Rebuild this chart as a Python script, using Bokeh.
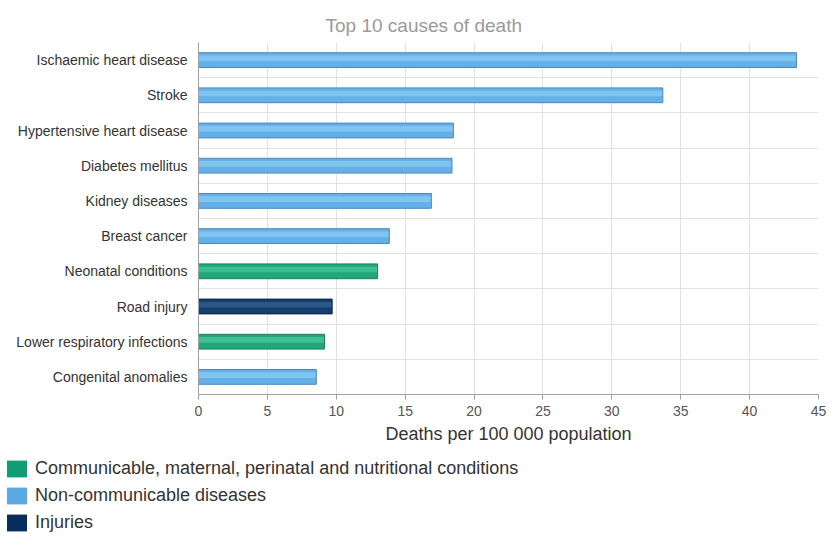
from bokeh.plotting import figure
from bokeh.layouts import column
from bokeh.models import Range1d, FactorRange, FixedTicker, Legend, LegendItem, ColumnDataSource
from bokeh.transform import dodge
from bokeh.embed import file_html
from bokeh.resources import INLINE

# ---- data ----
causes = ["Ischaemic heart disease", "Stroke", "Hypertensive heart disease",
          "Diabetes mellitus", "Kidney diseases", "Breast cancer",
          "Neonatal conditions", "Road injury", "Lower respiratory infections",
          "Congenital anomalies"]
deaths = [43.4, 33.7, 18.5, 18.4, 16.9, 13.85, 13.0, 9.7, 9.15, 8.55]
COMM = "Communicable, maternal, perinatal and nutritional conditions"
NCD = "Non-communicable diseases"
INJ = "Injuries"
groups = [NCD, NCD, NCD, NCD, NCD, NCD, COMM, INJ, COMM, NCD]
group_order = [COMM, NCD, INJ]
x_ticks = [0, 5, 10, 15, 20, 25, 30, 35, 40, 45]
title_text = "Top 10 causes of death"
x_label = "Deaths per 100 000 population"

# ---- styles ----
bar_fill = {COMM: "#22a67a", NCD: "#66b0e8", INJ: "#163e6c"}
bar_hi = {COMM: "#3cbf91", NCD: "#80c4f2", INJ: "#2a5688"}
bar_line = {COMM: "#178259", NCD: "#4a88bb", INJ: "#0b2547"}
legend_col = {COMM: "#0f9e74", NCD: "#5ba9e5", INJ: "#062d5c"}

FONT = "Liberation Sans"

src = ColumnDataSource(dict(
    cause=causes, deaths=deaths,
    fill=[bar_fill[g] for g in groups],
    hi=[bar_hi[g] for g in groups],
    line=[bar_line[g] for g in groups],
))

p = figure(width=827, height=454,
           y_range=FactorRange(factors=causes[::-1]),
           x_range=Range1d(0, 45),
           output_backend="svg", toolbar_location=None,
           min_border_left=198, min_border_right=9,
           min_border_top=42, min_border_bottom=60)
p.frame_align = False
p.outline_line_color = None
p.background_fill_color = "white"

# title
p.title.text = title_text
p.title.text_font = FONT
p.title.text_font_size = "19px"
p.title.text_font_style = "normal"
p.title.text_color = "#9a9a9a"
p.title.align = "left"
p.title.offset = 127
p.title.standoff = 13

# bars
p.hbar(y="cause", right="deaths", left=0, height=0.42, source=src,
       fill_color="fill", line_color=None)
p.hbar(y=dodge("cause", 0.05, range=p.y_range), right="deaths", left=0,
       height=0.16, source=src, fill_color="hi", line_color=None)
p.hbar(y="cause", right="deaths", left=0, height=0.42, source=src,
       fill_color=None, line_color="line", line_width=1)

# x axis
xa = p.xaxis[0]
xa.ticker = FixedTicker(ticks=x_ticks)
xa.major_label_text_font = FONT
xa.major_label_text_font_size = "14px"
xa.major_label_text_color = "#555555"
xa.axis_line_color = "#a0a0a0"
xa.major_tick_line_color = "#a0a0a0"
xa.major_tick_out = 5
xa.major_tick_in = 0
xa.minor_tick_out = 0
xa.minor_tick_in = 0
xa.major_label_standoff = 6
xa.axis_label = x_label
xa.axis_label_text_font = FONT
xa.axis_label_text_font_size = "18px"
xa.axis_label_text_font_style = "normal"
xa.axis_label_text_color = "#333333"
xa.axis_label_standoff = 5

# y axis
ya = p.yaxis[0]
ya.major_label_text_font = FONT
ya.major_label_text_font_size = "14px"
ya.major_label_text_color = "#333333"
ya.axis_line_color = "#a0a0a0"
ya.major_tick_out = 0
ya.major_tick_in = 0
ya.major_label_standoff = 11

# grids
p.xgrid.grid_line_color = "#e2e2e2"
p.ygrid.ticker = FixedTicker(ticks=list(range(len(causes) + 1)))
p.ygrid.grid_line_color = "#e2e2e2"

# legend figure below
leg_src = ColumnDataSource(dict(
    group=group_order,
    color=[legend_col[g] for g in group_order],
    zero=[0] * len(group_order),
))
lf = figure(width=827, height=80, x_range=Range1d(0, 1),
            y_range=FactorRange(factors=group_order[::-1]),
            x_axis_type=None, y_axis_type=None,
            output_backend="svg", toolbar_location=None, min_border=0)
lf.frame_align = False
lf.outline_line_color = None
lf.grid.visible = False

r = lf.hbar(y="group", left="zero", right="zero", height=0.5,
            fill_color="color", line_color=None, source=leg_src)
items = [LegendItem(label=g, renderers=[r], index=i) for i, g in enumerate(group_order)]

legend = Legend(items=items, location="top_left", orientation="vertical",
                glyph_width=25, glyph_height=21, spacing=6, padding=0, margin=4,
                label_standoff=6, label_text_font=FONT,
                label_text_font_size="18px", label_text_color="#333333",
                border_line_color=None, background_fill_alpha=0)
lf.add_layout(legend)

open("out.html", "w").write(file_html(column(p, lf), INLINE))
